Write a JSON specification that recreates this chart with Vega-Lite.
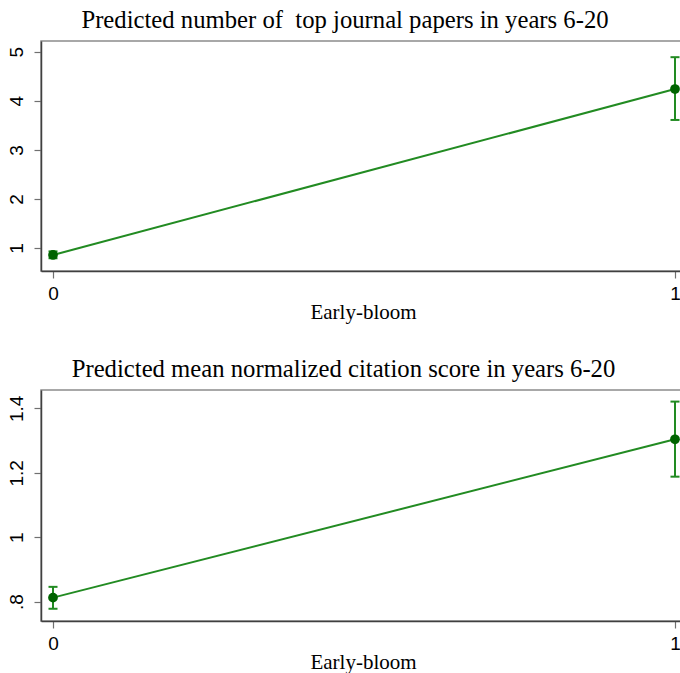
{
  "$schema": "https://vega.github.io/schema/vega-lite/v6.json",
  "background": "white",
  "padding": {"left": 6, "top": 7, "right": 0, "bottom": 0},
  "datasets": {
    "papers": [
      {"x": 0, "y": 0.857, "lo": 0.79, "hi": 0.93},
      {"x": 1, "y": 4.24, "lo": 3.61, "hi": 4.89}
    ],
    "citations": [
      {"x": 0, "y": 0.8125, "lo": 0.778, "hi": 0.846},
      {"x": 1, "y": 1.304, "lo": 1.188, "hi": 1.421}
    ]
  },
  "config": {
    "view": {"stroke": "#8c8c8c", "strokeWidth": 1.5},
    "font": "Liberation Sans",
    "axis": {
      "grid": false,
      "labelFont": "Liberation Sans",
      "labelFontSize": 19,
      "labelColor": "black",
      "titleFont": "Liberation Serif",
      "titleFontSize": 21,
      "titleFontWeight": "normal",
      "titleColor": "black",
      "tickColor": "#707070",
      "tickSize": 7,
      "tickWidth": 1.2,
      "domainColor": "#404040",
      "domainWidth": 1.5
    },
    "axisY": {"labelAngle": -90, "labelAlign": "center", "labelBaseline": "bottom", "labelPadding": 8},
    "title": {
      "font": "Liberation Serif",
      "fontSize": 24.7,
      "fontWeight": "normal",
      "color": "black",
      "anchor": "middle",
      "offset": 8
    },
    "concat": {"spacing": 119}
  },
  "bounds": "flush",
  "vconcat": [
    {
      "width": 646,
      "height": 230,
      "title": {"text": "Predicted number of\u00a0 top journal papers in years 6-20", "dx": -19},
      "data": {"name": "papers"},
      "layer": [
        {
          "mark": {"type": "line", "color": "#228b22", "strokeWidth": 2},
          "encoding": {
            "x": {"field": "x", "type": "quantitative",
              "scale": {"domain": [-0.0193, 1.0193], "nice": false, "zero": false},
              "axis": {"values": [0, 1], "format": "d", "title": "Early-bloom", "titleX": 322, "labelFlush": false, "labelPadding": 6, "titlePadding": -2}},
            "y": {"field": "y", "type": "quantitative", "title": null,
              "scale": {"domain": [0.53, 5.22], "nice": false, "zero": false},
              "axis": {"values": [1, 2, 3, 4, 5], "format": "d"}}
          }
        },
        {
          "mark": {"type": "errorbar", "color": "#228b22", "opacity": 1, "thickness": 2, "ticks": {"size": 9, "color": "#228b22", "opacity": 1}},
          "encoding": {
            "x": {"field": "x", "type": "quantitative"},
            "y": {"field": "lo", "type": "quantitative", "title": null},
            "y2": {"field": "hi"}
          }
        },
        {
          "mark": {"type": "point", "filled": true, "color": "#006400", "size": 95, "opacity": 1},
          "encoding": {
            "x": {"field": "x", "type": "quantitative"},
            "y": {"field": "y", "type": "quantitative", "title": null}
          }
        }
      ]
    },
    {
      "width": 646,
      "height": 231,
      "title": {"text": "Predicted mean normalized citation score in years 6-20", "dx": -20.5},
      "data": {"name": "citations"},
      "layer": [
        {
          "mark": {"type": "line", "color": "#228b22", "strokeWidth": 2},
          "encoding": {
            "x": {"field": "x", "type": "quantitative",
              "scale": {"domain": [-0.0193, 1.0193], "nice": false, "zero": false},
              "axis": {"values": [0, 1], "format": "d", "title": "Early-bloom", "titleX": 322, "labelFlush": false, "labelPadding": 6, "titlePadding": -2}},
            "y": {"field": "y", "type": "quantitative", "title": null,
              "scale": {"domain": [0.74, 1.457], "nice": false, "zero": false},
              "axis": {"values": [0.8, 1, 1.2, 1.4], "labelExpr": "datum.value < 0.9 ? '.8' : format(datum.value, '~g')"}}
          }
        },
        {
          "mark": {"type": "errorbar", "color": "#228b22", "opacity": 1, "thickness": 2, "ticks": {"size": 9, "color": "#228b22", "opacity": 1}},
          "encoding": {
            "x": {"field": "x", "type": "quantitative"},
            "y": {"field": "lo", "type": "quantitative", "title": null},
            "y2": {"field": "hi"}
          }
        },
        {
          "mark": {"type": "point", "filled": true, "color": "#006400", "size": 95, "opacity": 1},
          "encoding": {
            "x": {"field": "x", "type": "quantitative"},
            "y": {"field": "y", "type": "quantitative", "title": null}
          }
        }
      ]
    }
  ]
}
